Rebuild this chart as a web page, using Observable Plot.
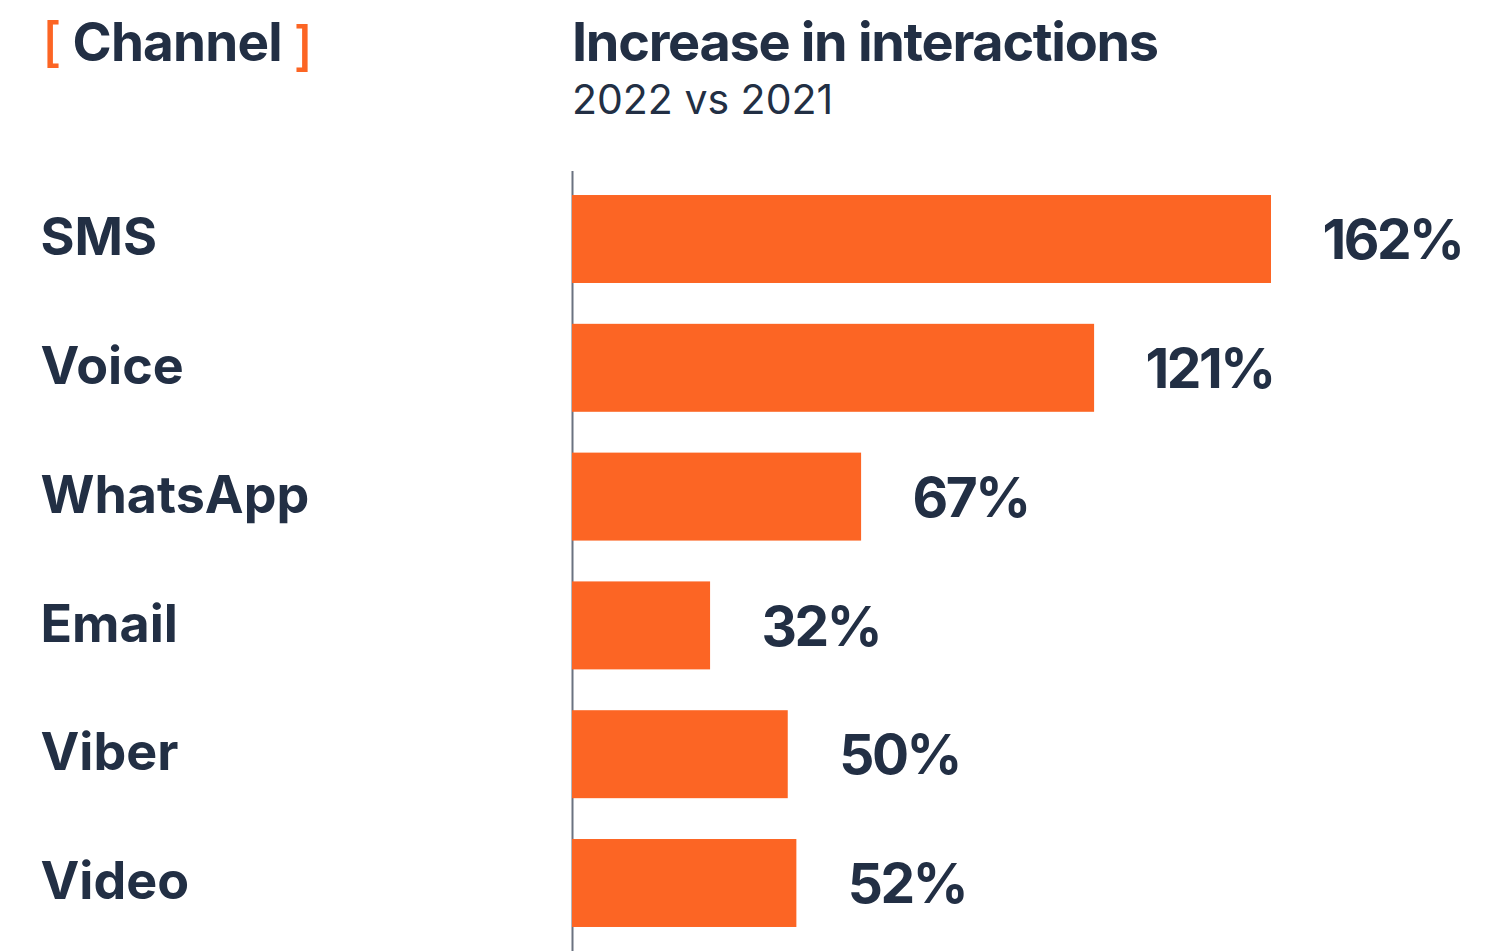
<!DOCTYPE html>
<html>
<head>
<meta charset="utf-8">
<script src="https://cdn.jsdelivr.net/npm/d3@7"></script>
<script src="https://cdn.jsdelivr.net/npm/@observablehq/plot@0.6"></script>
<style>
  html, body { margin: 0; padding: 0; background: #fff; width: 1505px; height: 951px; overflow: hidden; }
  body { position: relative; font-family: Inter, "Noto Sans", sans-serif; color: #222f44; }
  .hdr { position: absolute; line-height: 1; white-space: nowrap; }
  #channel { left: 42px; top: 16px; font-size: 53px; font-weight: 700; letter-spacing: -0.8px; }
  #channel .br { color: #fc6524; font-weight: 500; position: relative; }
  #channel .br2 { top: 4px; }
  #title { left: 572px; top: 15px; font-size: 54px; font-weight: 700; letter-spacing: -1.3px; }
  #subtitle { left: 572px; top: 79px; font-size: 41px; font-weight: 400; letter-spacing: 0px; }
  #chart { position: absolute; left: 0; top: 171px; }
  #chart g[aria-label="text"] text { letter-spacing: -2.5px; }
</style>
</head>
<body>
<div class="hdr" id="channel"><span class="br">[</span> Channel <span class="br br2">]</span></div>
<div class="hdr" id="title">Increase in interactions</div>
<div class="hdr" id="subtitle">2022 vs 2021</div>
<div id="chart"></div>
<script>
const channels = ["SMS", "Voice", "WhatsApp", "Email", "Viber", "Video"];
const increases = [162, 121, 67, 32, 50, 52];

const data = channels.map((c, i) => ({channel: c, value: increases[i]}));

const navy = "#222f44";
const orange = "#fc6524";

const chart = Plot.plot({
  width: 1505,
  height: 780,
  marginLeft: 572,
  marginRight: 234,
  marginTop: 0,
  marginBottom: 0,
  style: {fontFamily: "Inter, 'Noto Sans', sans-serif", fontWeight: 700, color: navy, background: "transparent"},
  x: {domain: [0, 162], axis: null},
  y: {domain: channels, paddingInner: 0.317, paddingOuter: 0.1865, round: false, label: null},
  marks: [
    Plot.ruleX([0], {stroke: "#6b7280", strokeWidth: 2}),
    Plot.barX(data, {x: "value", y: "channel", fill: orange}),
    Plot.axisY({tickSize: 0, tickPadding: 0, textAnchor: "start", dx: -532, dy: -1, fontSize: 52, fontWeight: 700, fill: navy, label: null}),
    Plot.text(data, {x: "value", y: "channel", text: d => `${d.value}%`, textAnchor: "start", dx: 51, dy: 2, fontSize: 55, fontWeight: 700, fill: navy})
  ]
});
document.getElementById("chart").appendChild(chart);
</script>
</body>
</html>
